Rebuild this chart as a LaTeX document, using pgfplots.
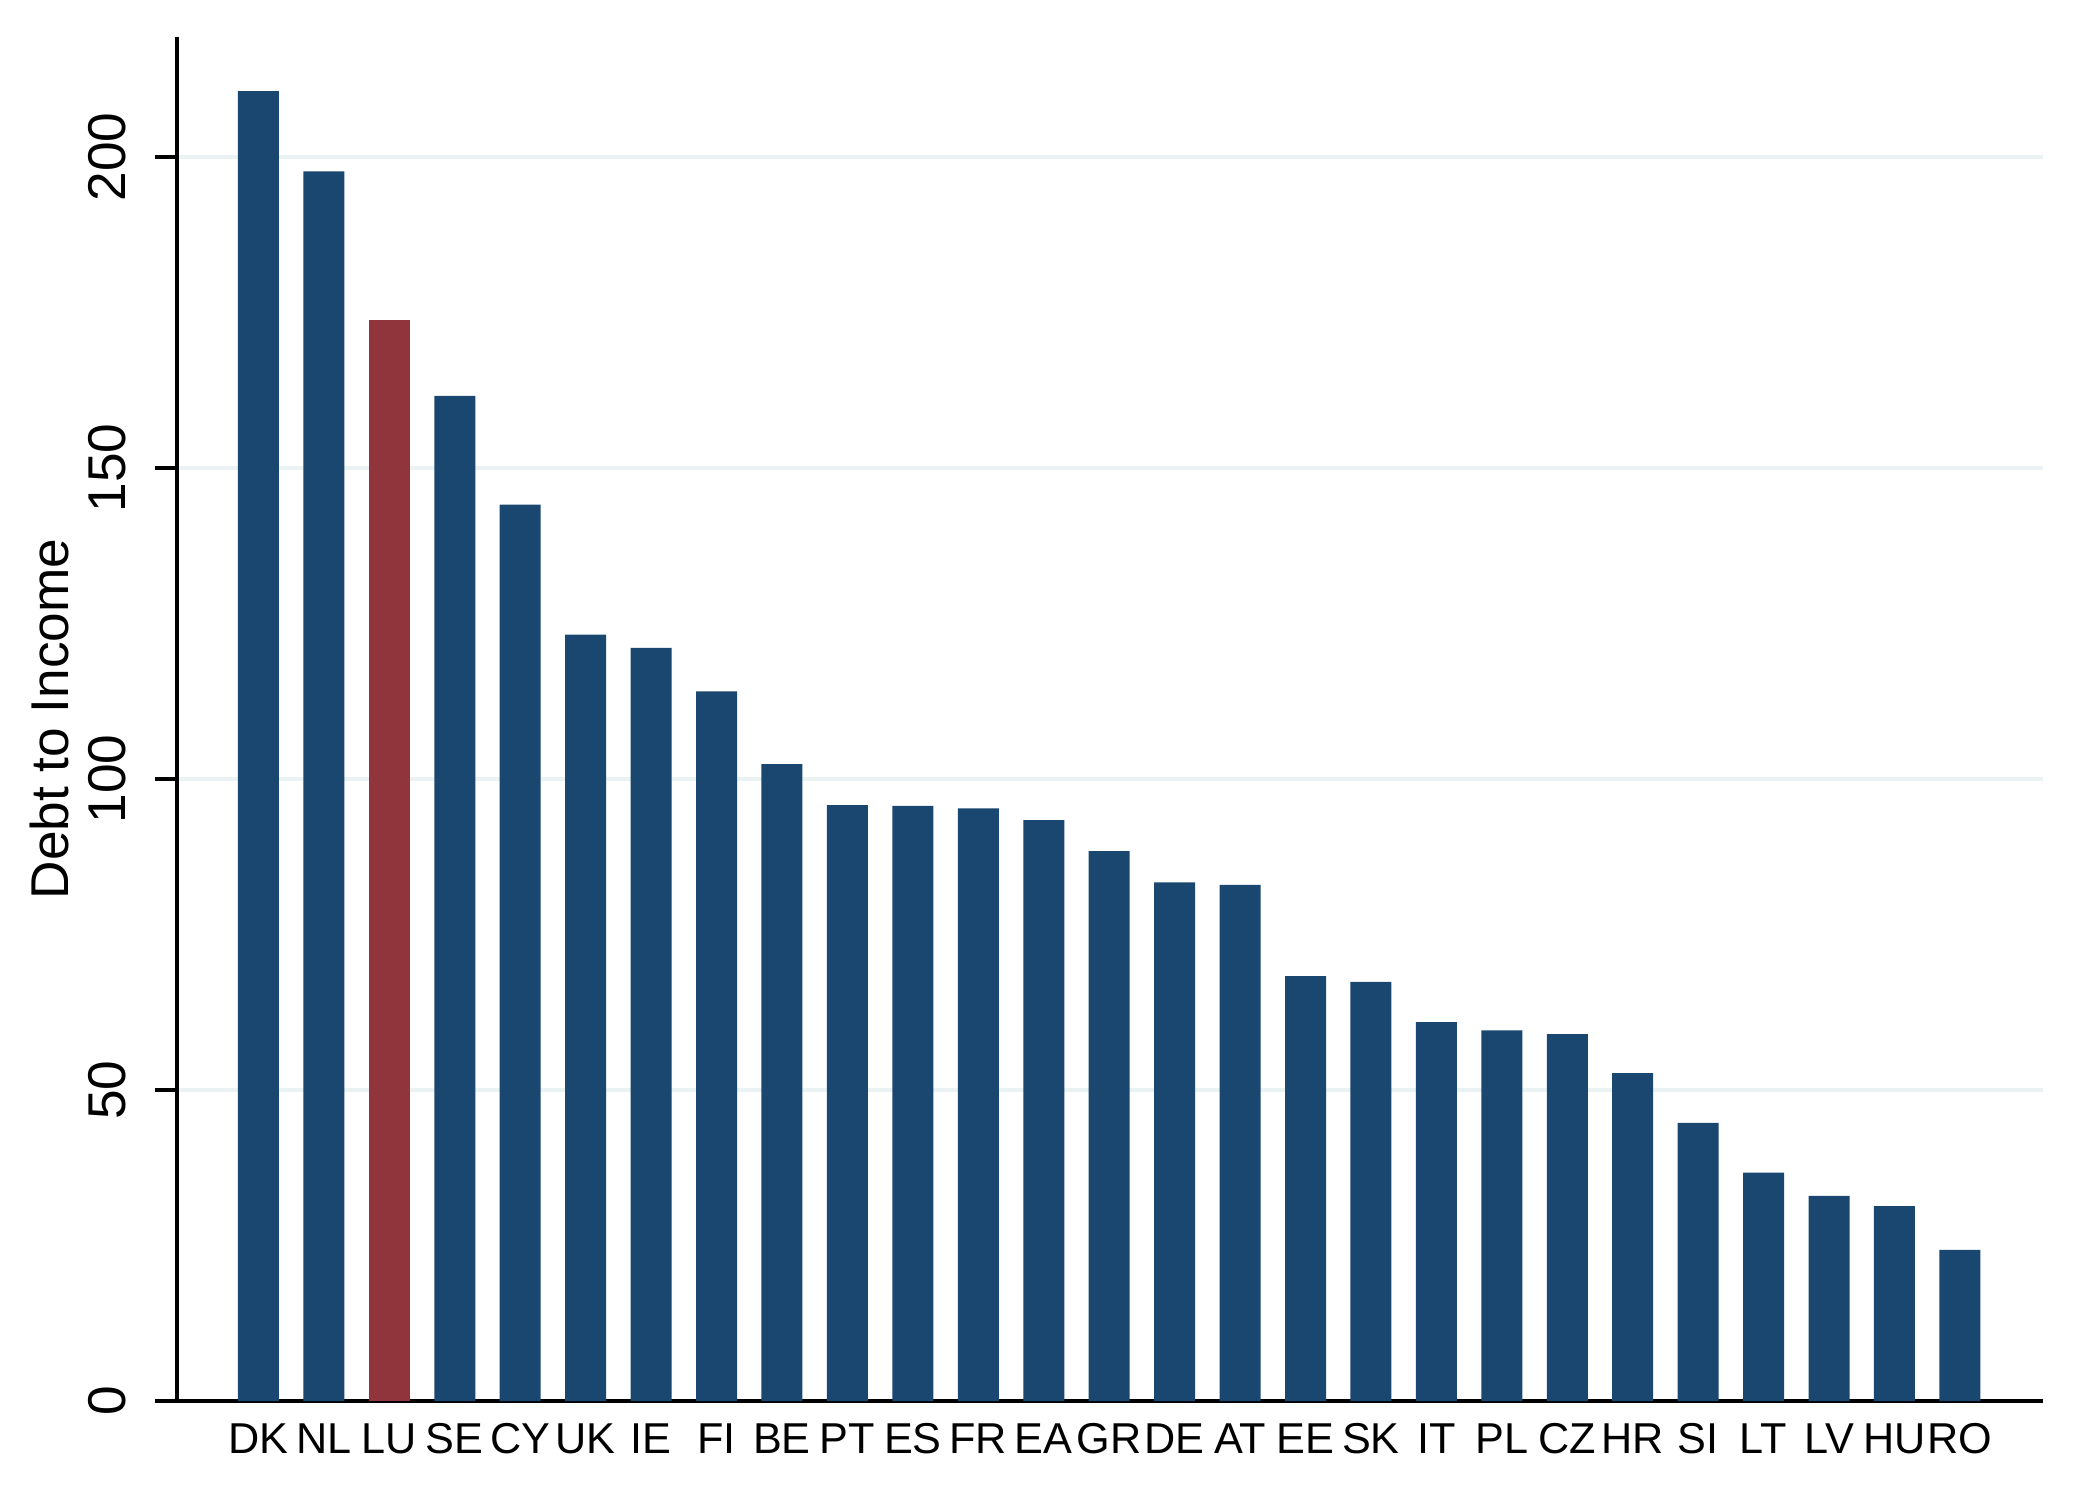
\documentclass[border=0pt]{standalone}
\usepackage{pgfplots}
\pgfplotsset{compat=1.18}
\usepackage{fontspec}
\setmainfont{Liberation Sans}
\definecolor{sblue}{HTML}{1A476F}
\definecolor{sred}{HTML}{90353B}
\definecolor{sgrid}{HTML}{EAF2F3}
\pgfplotstableread{
x y
0 210.6
1 197.7
3 161.6
4 144.1
5 123.2
6 121.1
7 114.1
8 102.4
9 95.8
10 95.7
11 95.3
12 93.4
13 88.4
14 83.4
15 83.0
16 68.3
17 67.4
18 60.9
19 59.6
20 59.0
21 52.7
22 44.7
23 36.7
24 33.0
25 31.35
26 24.3
}\bluedata
\pgfplotstableread{
x y
2 173.8
}\reddata
\begin{document}
\begin{tikzpicture}
\begin{axis}[
  scale only axis, width=466.5pt, height=341pt,
  xmin=-1.245, xmax=27.27, ymin=0, ymax=219.3,
  axis x line*=bottom, axis y line*=left,
  axis line style={line width=0.85pt, black},
  ybar, bar width=10.25pt, bar shift=0pt,
  xtick={0,...,26},
  xticklabels={DK,NL,LU,SE,CY,UK,IE,FI,BE,PT,ES,FR,EA,GR,DE,AT,EE,SK,IT,PL,CZ,HR,SI,LT,LV,HU,RO},
  x tick label style={font=\fontsize{10.8}{12}\selectfont, inner sep=0pt, anchor=north},
  major x tick style={draw=none},
  ytick={0,50,100,150,200},
  y tick label style={xshift=-7pt, font=\fontsize{13.3}{15}\selectfont, rotate=90, anchor=south, inner sep=0pt},
  /pgf/number format/assume math mode=true,
  tick align=outside, major tick length=5.5pt,
  major y tick style={line width=0.85pt, black},
  ymajorgrids, major grid style={sgrid, line width=1.2pt},
  ylabel={Debt to Income},
  every axis y label/.style={at={([xshift=-26.75pt]axis description cs:0,0.5)}, anchor=south, rotate=90, inner sep=0pt, font=\fontsize{13.3}{15}\selectfont},
]
\addplot[fill=sblue, draw=none] table[x=x, y=y] {\bluedata};
\addplot[fill=sred, draw=none] table[x=x, y=y] {\reddata};
\end{axis}
\pgfresetboundingbox
\path[use as bounding box] ([shift={(-44.25pt,-25.25pt)}]current axis.south west) rectangle ([shift={(8.25pt,9.25pt)}]current axis.north east);
\end{tikzpicture}
\end{document}
